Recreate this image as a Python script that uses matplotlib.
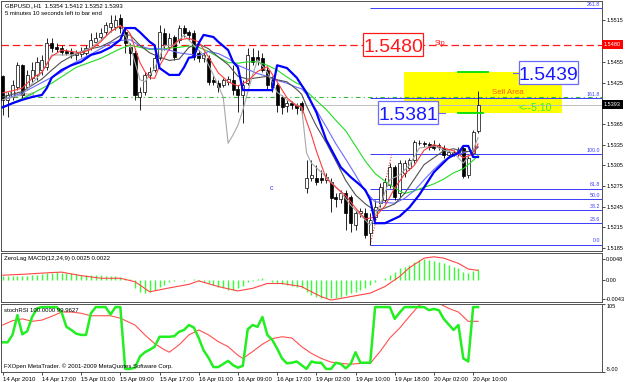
import matplotlib
matplotlib.use('Agg')
import matplotlib.pyplot as plt
import matplotlib.transforms as mtransforms
from matplotlib.patches import Rectangle

plt.rcParams['font.family'] = ['Liberation Sans', 'DejaVu Sans']

# GBPUSD H1, one candle per hour from 14 Apr 09:00 to 20 Apr 11:00
opens = [1.5434, 1.5400, 1.5404, 1.5418, 1.5450, 1.5418, 1.5432, 1.5436, 1.5443, 1.5447,
         1.5482, 1.5476, 1.5475, 1.5471, 1.5469, 1.5465, 1.5466, 1.5468, 1.5475, 1.5484,
         1.5491, 1.5498, 1.5505, 1.5505, 1.5519, 1.5498, 1.5476, 1.5468, 1.5404, 1.5411,
         1.5436, 1.5443, 1.5461, 1.5497, 1.5476, 1.5491, 1.5487, 1.5504, 1.5498, 1.5497,
         1.5468, 1.5461, 1.5461, 1.5429, 1.5424, 1.5421, 1.5426, 1.5429, 1.5416, 1.5407,
         1.5424, 1.5462, 1.5462, 1.5461, 1.5443, 1.5429, 1.5421, 1.5404, 1.5391, 1.5395,
         1.5392, 1.5395, 1.5272, 1.5287, 1.5287, 1.5287, 1.5284, 1.5281, 1.5259, 1.5256,
         1.5265, 1.5259, 1.5218, 1.5236, 1.5236, 1.5207, 1.5230, 1.5250, 1.5255, 1.5276,
         1.5302, 1.5265, 1.5294, 1.5301, 1.5313, 1.5337, 1.5337, 1.5336, 1.5334, 1.5331,
         1.5330, 1.5320, 1.5324, 1.5323, 1.5330, 1.5291, 1.5323, 1.5354]
highs = [1.5436, 1.5411, 1.5429, 1.5455, 1.5452, 1.5443, 1.5455, 1.5462, 1.5465, 1.5490,
         1.5490, 1.5482, 1.5479, 1.5474, 1.5475, 1.5472, 1.5476, 1.5479, 1.5497, 1.5498,
         1.5504, 1.5513, 1.5523, 1.5523, 1.5524, 1.5504, 1.5482, 1.5472, 1.5418, 1.5440,
         1.5447, 1.5468, 1.5508, 1.5504, 1.5497, 1.5494, 1.5508, 1.5508, 1.5501, 1.5501,
         1.5472, 1.5469, 1.5465, 1.5434, 1.5429, 1.5432, 1.5434, 1.5450, 1.5421, 1.5429,
         1.5475, 1.5475, 1.5472, 1.5468, 1.5447, 1.5434, 1.5424, 1.5407, 1.5400, 1.5398,
         1.5395, 1.5398, 1.5313, 1.5313, 1.5305, 1.5298, 1.5294, 1.5286, 1.5265, 1.5269,
         1.5269, 1.5262, 1.5240, 1.5243, 1.5243, 1.5236, 1.5255, 1.5279, 1.5287, 1.5308,
         1.5305, 1.5313, 1.5313, 1.5316, 1.5342, 1.5342, 1.5340, 1.5339, 1.5342, 1.5337,
         1.5334, 1.5327, 1.5327, 1.5331, 1.5334, 1.5320, 1.5356, 1.5412]
lows = [1.5378, 1.5375, 1.5400, 1.5414, 1.5400, 1.5414, 1.5426, 1.5429, 1.5436, 1.5443,
        1.5469, 1.5469, 1.5465, 1.5465, 1.5461, 1.5458, 1.5462, 1.5465, 1.5472, 1.5482,
        1.5487, 1.5494, 1.5498, 1.5501, 1.5497, 1.5468, 1.5450, 1.5400, 1.5385, 1.5407,
        1.5430, 1.5440, 1.5458, 1.5472, 1.5472, 1.5458, 1.5482, 1.5491, 1.5487, 1.5458,
        1.5455, 1.5455, 1.5421, 1.5421, 1.5411, 1.5418, 1.5421, 1.5407, 1.5382, 1.5366,
        1.5421, 1.5450, 1.5450, 1.5440, 1.5414, 1.5411, 1.5382, 1.5380, 1.5382, 1.5386,
        1.5380, 1.5375, 1.5265, 1.5282, 1.5276, 1.5279, 1.5279, 1.5237, 1.5244, 1.5250,
        1.5211, 1.5208, 1.5211, 1.5230, 1.5200, 1.5190, 1.5226, 1.5244, 1.5250, 1.5272,
        1.5255, 1.5259, 1.5288, 1.5298, 1.5308, 1.5334, 1.5331, 1.5327, 1.5327, 1.5327,
        1.5316, 1.5316, 1.5318, 1.5318, 1.5286, 1.5286, 1.5320, 1.5352]
closes = [1.5400, 1.5407, 1.5421, 1.5450, 1.5407, 1.5436, 1.5443, 1.5455, 1.5458, 1.5482,
          1.5475, 1.5474, 1.5469, 1.5468, 1.5466, 1.5468, 1.5471, 1.5475, 1.5487, 1.5490,
          1.5497, 1.5508, 1.5511, 1.5516, 1.5504, 1.5482, 1.5468, 1.5407, 1.5411, 1.5436,
          1.5440, 1.5461, 1.5498, 1.5479, 1.5490, 1.5462, 1.5504, 1.5497, 1.5494, 1.5462,
          1.5461, 1.5465, 1.5426, 1.5426, 1.5418, 1.5429, 1.5430, 1.5414, 1.5407, 1.5421,
          1.5465, 1.5455, 1.5458, 1.5443, 1.5421, 1.5418, 1.5392, 1.5389, 1.5395, 1.5392,
          1.5388, 1.5385, 1.5287, 1.5291, 1.5281, 1.5284, 1.5288, 1.5258, 1.5256, 1.5265,
          1.5236, 1.5221, 1.5236, 1.5239, 1.5204, 1.5226, 1.5244, 1.5273, 1.5281, 1.5302,
          1.5259, 1.5308, 1.5308, 1.5313, 1.5339, 1.5338, 1.5336, 1.5331, 1.5330, 1.5334,
          1.5320, 1.5324, 1.5321, 1.5327, 1.5289, 1.5316, 1.5353, 1.5393]

# indicator lines: (bar index, price)
red_bars = [0, 2, 4, 6, 8, 10, 12, 14, 16, 18, 20, 22, 24, 25, 26, 27, 28, 29, 30, 31, 32, 34,
            36, 38, 40, 42, 44, 46, 48, 50, 52, 54, 56, 58, 60, 61, 62, 63, 64, 65, 66, 68, 70,
            72, 74, 76, 78, 80, 82, 84, 86, 88, 90, 92, 94, 96, 97]
red_ma = [1.5410, 1.5413, 1.5417, 1.5431, 1.5440, 1.5463, 1.5472, 1.5470, 1.5468, 1.5473,
          1.5484, 1.5499, 1.5507, 1.5504, 1.5496, 1.5475, 1.5454, 1.5441, 1.5432, 1.5431,
          1.5449, 1.5474, 1.5487, 1.5489, 1.5484, 1.5462, 1.5439, 1.5426, 1.5420, 1.5427,
          1.5441, 1.5448, 1.5426, 1.5403, 1.5391, 1.5390, 1.5369, 1.5349, 1.5326, 1.5306,
          1.5286, 1.5273, 1.5261, 1.5243, 1.5227, 1.5230, 1.5246, 1.5272, 1.5292, 1.5305,
          1.5327, 1.5335, 1.5330, 1.5326, 1.5316, 1.5321, 1.5336]
gray_bars = [0, 4, 8, 10, 12, 14, 16, 18, 20, 22, 24, 26, 28, 30, 32, 34, 36, 38, 40, 42, 44,
             46, 48, 50, 52, 54, 56, 58, 60, 61, 62, 64, 66, 68, 70, 72, 74, 76, 78, 80, 82, 84,
             86, 88, 90, 92, 94, 96, 97]
gray_ma = [1.5404, 1.5412, 1.5430, 1.5443, 1.5455, 1.5463, 1.5469, 1.5474, 1.5477, 1.5484,
           1.5493, 1.5494, 1.5479, 1.5468, 1.5462, 1.5457, 1.5459, 1.5476, 1.5481, 1.5474,
           1.5462, 1.5451, 1.5434, 1.5430, 1.5432, 1.5434, 1.5429, 1.5426, 1.5415, 1.5408,
           1.5391, 1.5362, 1.5338, 1.5311, 1.5283, 1.5262, 1.5249, 1.5239, 1.5243, 1.5249,
           1.5264, 1.5285, 1.5306, 1.5316, 1.5326, 1.5329, 1.5325, 1.5325, 1.5331]
blue_bars = [0, 4, 8, 12, 14, 16, 18, 20, 22, 24, 26, 28, 30, 32, 34, 36, 38, 40, 42, 44, 46,
             48, 50, 52, 54, 56, 58, 60, 61, 62, 64, 66, 68, 70, 72, 74, 76, 78, 80, 82, 84, 86,
             88, 90, 92, 94, 96, 97]
blue_ma = [1.5400, 1.5410, 1.5425, 1.5440, 1.5451, 1.5459, 1.5466, 1.5474, 1.5482, 1.5486,
           1.5487, 1.5478, 1.5474, 1.5474, 1.5472, 1.5468, 1.5466, 1.5464, 1.5470, 1.5467,
           1.5460, 1.5450, 1.5444, 1.5438, 1.5434, 1.5428, 1.5424, 1.5418, 1.5416, 1.5408,
           1.5385, 1.5361, 1.5336, 1.5314, 1.5291, 1.5267, 1.5252, 1.5251, 1.5250, 1.5257,
           1.5268, 1.5284, 1.5299, 1.5312, 1.5319, 1.5323, 1.5327, 1.5332]
green_bars = [0, 5, 10, 15, 20, 22, 24, 26, 28, 30, 32, 34, 36, 38, 40, 42, 44, 46, 48, 50, 52,
              54, 56, 58, 60, 61, 62, 64, 66, 68, 70, 72, 74, 76, 78, 80, 82, 84, 86, 88, 90,
              92, 94, 96, 97]
green_ma = [1.5389, 1.5405, 1.5424, 1.5447, 1.5460, 1.5467, 1.5474, 1.5479, 1.5476, 1.5473,
            1.5473, 1.5475, 1.5476, 1.5478, 1.5476, 1.5470, 1.5462, 1.5454, 1.5453, 1.5455,
            1.5455, 1.5450, 1.5443, 1.5433, 1.5424, 1.5421, 1.5412, 1.5399, 1.5386, 1.5370,
            1.5355, 1.5333, 1.5311, 1.5293, 1.5282, 1.5272, 1.5264, 1.5268, 1.5273, 1.5278,
            1.5285, 1.5294, 1.5300, 1.5312, 1.5319]
silver_bars = [0, 4, 8, 10, 14, 18, 22, 24, 26, 28, 29, 31, 33, 35, 37, 39, 41, 43, 45, 46, 47,
               48, 49, 50, 51, 52, 54, 56, 58, 61, 62, 63, 65, 67, 69, 71, 73, 75, 77, 79, 81,
               83, 85, 88, 90, 92, 94, 96, 97]
silver_ma = [1.5400, 1.5407, 1.5440, 1.5465, 1.5465, 1.5475, 1.5498, 1.5508, 1.5479, 1.5429,
             1.5426, 1.5446, 1.5479, 1.5479, 1.5494, 1.5479, 1.5465, 1.5436, 1.5404, 1.5337,
             1.5349, 1.5363, 1.5385, 1.5411, 1.5436, 1.5458, 1.5440, 1.5411, 1.5400, 1.5389,
             1.5323, 1.5308, 1.5295, 1.5281, 1.5266, 1.5247, 1.5233, 1.5218, 1.5247, 1.5284,
             1.5291, 1.5305, 1.5330, 1.5333, 1.5327, 1.5323, 1.5308, 1.5327, 1.5345]
band_bars = [0, 2, 4, 6, 8, 9, 10, 12, 14, 16, 18, 20, 22, 24, 25, 27, 28, 30, 31, 32, 34, 36,
             37, 38, 39, 40, 41, 43, 44, 46, 47, 48, 49, 55, 56, 58, 60, 62, 64, 66, 69, 71, 73,
             74, 75, 76, 78, 81, 83, 85, 88, 91, 93, 94, 95, 96, 97]
band = [1.5389, 1.5395, 1.5400, 1.5404, 1.5407, 1.5417, 1.5432, 1.5443, 1.5450, 1.5455,
        1.5465, 1.5469, 1.5476, 1.5487, 1.5504, 1.5504, 1.5498, 1.5484, 1.5479, 1.5446,
        1.5436, 1.5436, 1.5447, 1.5461, 1.5462, 1.5482, 1.5494, 1.5491, 1.5484, 1.5472,
        1.5455, 1.5447, 1.5414, 1.5414, 1.5450, 1.5446, 1.5432, 1.5410, 1.5382, 1.5342,
        1.5302, 1.5288, 1.5276, 1.5269, 1.5255, 1.5221, 1.5221, 1.5231, 1.5244, 1.5262,
        1.5295, 1.5316, 1.5323, 1.5333, 1.5333, 1.5317, 1.5317]

# ZeroLag MACD(12,24,9)
macd_hist = [0.0009, 0.0008, 0.0009, 0.0010, 0.0009, 0.0010, 0.0011, 0.0012, 0.0013, 0.0015,
             0.0017, 0.0018, 0.0017, 0.0016, 0.0015, 0.0013, 0.0012, 0.0011, 0.0011, 0.0012,
             0.0011, 0.0010, 0.0009, 0.0008, 0.0007, 0.0005, 0.0002, -0.0018, -0.0027, -0.0029,
             -0.0027, -0.0023, -0.0015, -0.0011, -0.0005, -0.0002, 0.0001, -0.0003, 0.0001, 0.0002,
             -0.0002, -0.0004, -0.0008, -0.0011, -0.0017, -0.0019, -0.0023, -0.0023, -0.0019, -0.0013,
             -0.0005, -0.0002, 0.0002, 0.0004, 0.0000, -0.0004, -0.0008, -0.0010, -0.0011, -0.0013,
             -0.0015, -0.0018, -0.0027, -0.0034, -0.0038, -0.0042, -0.0042, -0.0042, -0.0042, -0.0038,
             -0.0034, -0.0030, -0.0027, -0.0023, -0.0019, -0.0011, -0.0005, 0.0001, 0.0004, 0.0011,
             0.0019, 0.0027, 0.0030, 0.0034, 0.0042, 0.0046, 0.0048, 0.0046, 0.0043, 0.0040,
             0.0038, 0.0034, 0.0030, 0.0027, 0.0019, 0.0015, 0.0020, 0.0025]
macd_sig_bars = [0, 4, 10, 12, 16, 20, 24, 27, 30, 34, 38, 40, 44, 48, 51, 54, 57, 61, 63, 65,
                 67, 71, 75, 78, 81, 83, 86, 88, 90, 93, 95, 97]
macd_sig = [0.0011, 0.0013, 0.0017, 0.0018, 0.0010, 0.0004, 0.0004, -0.0004, -0.0027, -0.0018,
            -0.0010, -0.0002, -0.0015, -0.0025, -0.0019, -0.0008, -0.0008, -0.0015, -0.0027, -0.0038,
            -0.0046, -0.0038, -0.0030, -0.0015, 0.0008, 0.0028, 0.0050, 0.0053, 0.0050, 0.0038,
            0.0025, 0.0022]

# stochRSI
stoch_k = [43, 43, 55, 87, 56, 61, 84, 98, 100, 100, 100, 100, 92, 68, 63, 57, 55, 55, 90, 100,
           100, 100, 88, 100, 100, 0, 0, 2, 20, 27, 31, 36, 52, 52, 52, 53, 60, 63, 71, 67,
           50, 30, 18, 3, 3, 8, 13, 6, 2, 5, 64, 71, 68, 84, 55, 47, 33, 17, 9, 10,
           12, 6, 0, 12, 10, 10, 0, 0, 10, 8, 1, 8, 27, 10, 10, 10, 100, 100, 100, 100,
           81, 91, 100, 100, 100, 100, 100, 95, 97, 95, 81, 72, 63, 71, 17, 12, 100, 100]
stoch_d_bars = [0, 2, 4, 6, 8, 10, 12, 14, 16, 18, 20, 22, 24, 27, 29, 31, 33, 34, 36, 38, 40,
                42, 44, 46, 48, 49, 51, 53, 55, 57, 59, 61, 63, 65, 67, 69, 71, 73, 75, 77, 79,
                81, 83, 85, 88, 91, 93, 95, 97]
stoch_d = [71, 78, 81, 77, 79, 85, 92, 92, 90, 86, 86, 86, 82, 71, 55, 41, 31, 27, 39, 55, 63,
           55, 44, 36, 22, 17, 28, 40, 49, 52, 50, 36, 25, 17, 11, 9, 7.5, 9, 9, 28, 50,
           66, 85, 103, 110, 98, 92, 77, 77]

time_ticks = [0, 8, 16, 24, 32, 40, 48, 56, 64, 72, 80, 88, 96]
time_labels = ['14 Apr 2010', '14 Apr 17:00', '15 Apr 01:00', '15 Apr 09:00', '15 Apr 17:00',
               '16 Apr 01:00', '16 Apr 09:00', '16 Apr 17:00', '19 Apr 02:00', '19 Apr 10:00',
               '19 Apr 18:00', '20 Apr 02:00', '20 Apr 10:00']
price_ticks = [1.5515, 1.5455, 1.5425, 1.5365, 1.5335, 1.5305, 1.5275, 1.5245, 1.5215, 1.5185]

# chart objects
stop_level = 1.5480
sell_top, sell_bottom = 1.5440, 1.5381
sell_line = 1.5404
bid = 1.5393
fib_low, fib_high = 1.5190, 1.5321
fib_start, fib_end = 75, 79.4
fib_ratios = [0.0, 23.6, 38.2, 50.0, 61.8, 100.0, 161.8, 261.8]

SMALL = 4.3
AXIS = 4.0
XLIM = (-0.35, 122.3)

fig = plt.figure(figsize=(6.25, 3.82), dpi=100)
fig.patch.set_facecolor('white')
W, H = 625.0, 382.0


def panel(top, bottom):
    a = fig.add_axes([1 / W, 1 - bottom / H, 601 / W, (bottom - top) / H])
    a.set_xlim(*XLIM)
    for s in a.spines.values():
        s.set_color('#505050')
        s.set_linewidth(0.7)
    a.tick_params(axis='x', bottom=False, labelbottom=False)
    a.yaxis.tick_right()
    a.tick_params(axis='y', direction='out', length=2, width=0.5, pad=1,
                  labelsize=AXIS, colors='black')
    return a


ax = panel(1, 251)
ax_macd = panel(253, 302)
ax_rsi = panel(304, 372)

# ---- main price window ----
ax.set_ylim(1.51807, 1.55432)
ax.set_yticks(price_ticks)
ax.set_yticklabels([f'{p:.4f}' for p in price_ticks])
tr = mtransforms.blended_transform_factory(ax.transAxes, ax.transData)

ax.add_patch(Rectangle((81.9, sell_bottom), 114.1 - 81.9, sell_top - sell_bottom,
                       fc='#ffff00', ec='none', zorder=0.5))
ax.axhline(stop_level, color='#ff1a1a', lw=0.9, dashes=(6, 3), zorder=1)
ax.axhline(sell_line, color='#33bb33', lw=0.8, dashes=(4, 3, 1, 3), zorder=1)
ax.axhline(bid, color='#c0c0c0', lw=0.7, zorder=1)
fib_levels = [fib_low + (fib_high - fib_low) * r / 100 for r in fib_ratios]
ax.hlines(fib_levels, fib_start, XLIM[1], color='#3a3aff', lw=0.7, zorder=1)
for r, lv in zip(fib_ratios, fib_levels):
    ax.text(0.997, lv + 0.0002, f'{r:.1f}', transform=tr, ha='right', va='bottom',
            fontsize=3.8, color='#3a3aff', zorder=2)
ax.plot([fib_start, fib_end], [fib_low, fib_high], color='#ff3030', lw=0.8,
        ls=(0, (1, 1.5)), zorder=2)
ax.text(0.5, sell_line + 0.0004, '1.5400 sell', color='#777777', fontsize=SMALL,
        ha='left', va='center', zorder=1.5)

# candles
bars = list(range(len(closes)))
ax.vlines(bars, lows, highs, color='black', lw=0.6, zorder=3)
body_low = [min(o, c) for o, c in zip(opens, closes)]
body_h = [max(abs(c - o), 0.00005) for o, c in zip(opens, closes)]
fills = ['white' if c >= o else 'black' for o, c in zip(opens, closes)]
ax.bar(bars, body_h, bottom=body_low, width=0.62, color=fills, edgecolor='black',
       linewidth=0.5, zorder=4)

# indicator lines
ax.plot(green_bars, green_ma, color='#22dd22', lw=0.8, zorder=5)
ax.plot(blue_bars, blue_ma, color='#6a6aff', lw=0.8, zorder=5)
ax.plot(gray_bars, gray_ma, color='#505050', lw=0.8, zorder=5)
ax.plot(silver_bars, silver_ma, color='#a8a8a8', lw=0.8, zorder=5)
ax.plot(red_bars, red_ma, color='#ff3b3b', lw=0.8, zorder=5)
ax.plot(band_bars, band, color='#0000ff', lw=1.6, zorder=5.5)

# sell area annotations
ax.plot([92.9, 99.0], [sell_top, sell_top], color='#00dd00', lw=1.3, zorder=6)
ax.plot([92.9, 98.0], [sell_bottom, sell_bottom], color='#00dd00', lw=1.3, zorder=6)
ax.text(103.1, 1.5411, 'Sell Area', color='#ff5a00', fontsize=5.7, ha='center',
        va='center', zorder=6)
ax.text(105.2, 1.5388, '<--5:10', color='#33ee33', fontsize=7.5, ha='left',
        va='center', zorder=6)
ax.text(54.8, 1.5272, 'c', color='#3a3aff', fontsize=5, ha='center', va='center', zorder=6)


def price_box(xc, price, text, color, edge):
    ax.add_patch(Rectangle((xc - 6.1, price - 0.00167), 12.2, 0.00334, fc='white',
                           ec=edge, lw=0.9, zorder=7))
    ax.text(xc, price - 0.00102, text, ha='center', va='baseline', fontsize=14,
            color=color, zorder=8)


price_box(79.7, stop_level, '1.5480', '#ff1a1a', '#ff1a1a')
price_box(111.4, 1.5439, '1.5439', '#1a1aff', '#6a6aff')
price_box(82.7, sell_bottom, '1.5381', '#1a1aff', '#6a6aff')
ax.plot([104.1, 105.3], [1.5439, 1.5439], color='#6a6aff', lw=0.8, zorder=6)
ax.plot([88.8, 90.3], [sell_bottom, sell_bottom], color='#6a6aff', lw=0.8, zorder=6)
ax.text(88.2, stop_level + 0.0001, 'Stp', color='#ff1a1a', fontsize=5, ha='left',
        va='center', zorder=6)

# right-scale markers
for lv, txt, bg in [(stop_level, '1.5480', '#ff0000'), (bid, '1.5393', 'black')]:
    ax.text(1.003, lv, txt, transform=tr, ha='left', va='center', fontsize=AXIS,
            color='white', clip_on=False, zorder=10,
            bbox=dict(boxstyle='square,pad=0.35', fc=bg, ec='none'))

ax.text(0.0067, 0.992, 'GBPUSD,,H1  1.5354 1.5412 1.5352 1.5393', transform=ax.transAxes,
        fontsize=SMALL, va='top', ha='left', zorder=9)
ax.text(0.0067, 0.962, '5 minutes 10 seconds left to bar end', transform=ax.transAxes,
        fontsize=SMALL, va='top', ha='left', zorder=9)

# ---- MACD window ----
ax_macd.set_ylim(-0.00503, 0.00617)
ax_macd.set_yticks([0.0048, 0.0, -0.0043])
ax_macd.set_yticklabels(['0.0048', '0.00', '-0.0043'])
ax_macd.vlines(bars, 0, macd_hist, color='#33ff33', lw=1.0)
ax_macd.plot(macd_sig_bars, macd_sig, color='#ff4545', lw=0.8)
ax_macd.text(0.005, 0.93, 'ZeroLag MACD(12,24,9) 0.0025 0.0022', transform=ax_macd.transAxes,
             fontsize=SMALL, va='top', ha='left')

# ---- stochRSI window ----
ax_rsi.set_ylim(-5, 105)
ax_rsi.set_yticks([-5, 105])
ax_rsi.set_yticklabels(['-5.00', '105'])
for lbl, va in zip(ax_rsi.get_yticklabels(), ['bottom', 'top']):
    lbl.set_va(va)
ax_rsi.plot(stoch_d_bars, stoch_d, color='#ff5050', lw=0.8)
ax_rsi.plot(bars, stoch_k, color='#22ee22', lw=1.8)
ax_rsi.text(0.005, 0.94, 'stochRSI 100.0000 99.9627', transform=ax_rsi.transAxes,
            fontsize=SMALL, va='top', ha='left')
ax_rsi.text(0.005, 0.05, 'FXOpen MetaTrader. \u00a9 2001-2009 MetaQuotes Software Corp.',
            transform=ax_rsi.transAxes, fontsize=SMALL, va='bottom', ha='left')
ax_rsi.set_xticks(time_ticks)
ax_rsi.set_xticklabels(time_labels, ha='left')
ax_rsi.tick_params(axis='x', bottom=True, labelbottom=True, direction='out', length=2,
                   width=0.5, pad=1.5, labelsize=SMALL)

fig.savefig('out.png', dpi=100)
